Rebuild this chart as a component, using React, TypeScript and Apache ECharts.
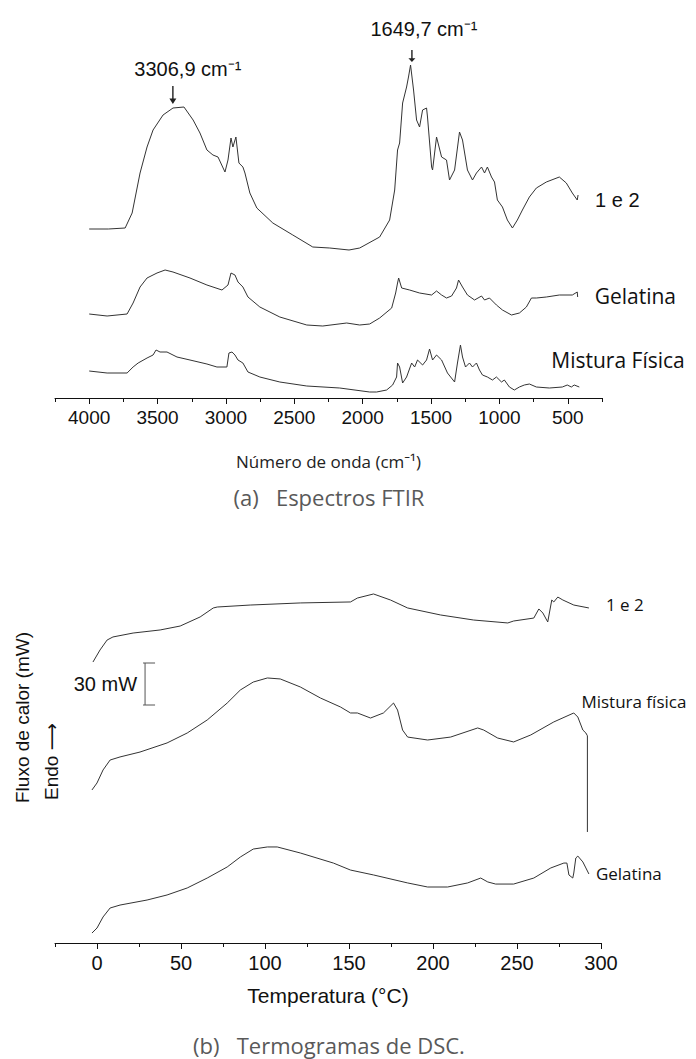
import React, { useEffect, useRef } from "react";
import * as echarts from "echarts";

// ---------- FTIR data (wavenumber cm-1, relative intensity a.u.) ----------
const ftirMajorTicks = [500, 1000, 1500, 2000, 2500, 3000, 3500, 4000];

const ftir12 = [
  [4000, 169], [3860, 169], [3737, 170], [3686, 185], [3628, 225], [3577, 251], [3533, 268],
  [3460, 283], [3387, 290], [3307, 291], [3240, 278], [3190, 265], [3139, 248], [3095, 243],
  [3058, 241], [3007, 226], [2985, 238], [2963, 260], [2949, 251], [2927, 261], [2905, 235],
  [2876, 231], [2861, 225], [2825, 205], [2774, 190], [2657, 175], [2511, 163], [2365, 151],
  [2241, 150], [2100, 148], [2022, 150], [1876, 161], [1803, 178], [1766, 208], [1745, 248],
  [1730, 255], [1708, 295], [1679, 311], [1665, 321], [1650, 333], [1628, 308], [1606, 278],
  [1584, 271], [1562, 288], [1533, 290], [1526, 281], [1496, 231], [1489, 228], [1460, 261],
  [1423, 241], [1387, 238], [1365, 218], [1328, 228], [1292, 266], [1270, 258], [1234, 228],
  [1197, 218], [1168, 225], [1131, 231], [1109, 225], [1088, 231], [1058, 221], [1036, 216],
  [1015, 198], [978, 191], [942, 178], [905, 170], [869, 178], [832, 188], [781, 201],
  [730, 210], [657, 216], [562, 221], [511, 215], [467, 205], [431, 198], [425, 203],
];

const ftirGel = [
  [4000, 84], [3869, 82], [3723, 84], [3679, 95], [3628, 111], [3577, 120], [3504, 125],
  [3445, 128], [3387, 126], [3263, 120], [3139, 113], [3029, 108], [2985, 113], [2963, 125],
  [2934, 123], [2912, 116], [2876, 111], [2839, 101], [2752, 91], [2606, 81], [2409, 73],
  [2292, 72], [2117, 75], [2022, 73], [1949, 74], [1876, 80], [1788, 90], [1759, 105],
  [1745, 115], [1737, 120], [1715, 110], [1657, 108], [1584, 105], [1496, 103], [1460, 107],
  [1423, 103], [1387, 100], [1350, 102], [1314, 110], [1299, 118], [1270, 111], [1234, 103],
  [1182, 98], [1131, 102], [1109, 98], [1073, 100], [1022, 93], [978, 88], [912, 83],
  [854, 85], [803, 91], [766, 100], [730, 100], [657, 101], [562, 103], [467, 103],
  [431, 106], [428, 101],
];

const ftirMix = [
  [4000, 27], [3869, 25], [3723, 25], [3679, 31], [3642, 35], [3577, 40], [3533, 43],
  [3511, 48], [3482, 46], [3431, 46], [3358, 41], [3263, 38], [3139, 34], [3066, 31],
  [2993, 31], [2978, 45], [2956, 46], [2934, 43], [2912, 38], [2876, 35], [2839, 26],
  [2752, 21], [2606, 16], [2409, 12], [2168, 10], [1949, 6], [1898, 6], [1825, 8],
  [1781, 13], [1752, 21], [1745, 35], [1730, 31], [1708, 15], [1679, 21], [1642, 35],
  [1620, 31], [1599, 38], [1562, 33], [1533, 38], [1511, 49], [1489, 38], [1460, 43],
  [1423, 38], [1380, 25], [1328, 16], [1307, 35], [1285, 53], [1270, 41], [1248, 31],
  [1219, 35], [1197, 31], [1168, 35], [1146, 28], [1124, 23], [1088, 21], [1051, 18],
  [1022, 21], [985, 16], [964, 18], [927, 11], [891, 8], [854, 11], [818, 13], [781, 14],
  [730, 11], [635, 10], [540, 11], [504, 13], [474, 11], [453, 13], [416, 11],
];

// ---------- DSC data (temperature °C, heat flow mW, offset curves) ----------
const dscMajorTicks = [0, 50, 100, 150, 200, 250, 300];

const dsc12 = [
  [-2.4, 200.7], [1.8, 209.3], [6.0, 216.4], [9.5, 218.6], [21.5, 221.4], [37.6, 223.6],
  [49.5, 226.4], [61.4, 232.9], [69.2, 239.3], [71.6, 240], [91.2, 241.4], [121, 242.9],
  [150.9, 243.6], [155, 246.4], [164.6, 249.3], [174.7, 245], [184.9, 239.3], [204.5, 234.3],
  [224.2, 230.7], [244.5, 228.6], [248, 230], [260, 232.1], [263, 238.6], [265.4, 235.7],
  [268.3, 229.3], [270.7, 245], [271.9, 243.6], [274.3, 247.1], [277.3, 245], [283.8, 241.4],
  [292.8, 239.3],
];

const dscMix = [
  [-3, 109.3], [0, 114.3], [3.6, 123.6], [7.8, 130.7], [13.7, 132.9], [25.6, 136.4],
  [41.7, 142.9], [53.7, 150], [65.6, 159.3], [77.5, 171.4], [85.3, 180.7], [93, 186.4],
  [101.4, 189.3], [109.1, 188.6], [121, 182.9], [133, 175], [144.9, 168.6], [150.9, 164.3],
  [155, 164.3], [162.8, 160.7], [170.5, 164.3], [176.5, 171.4], [178.9, 166.4], [181.9, 152.1],
  [184.9, 147.1], [196.8, 145], [210.5, 147.1], [226.6, 153.6], [230.2, 152.1], [238.5, 146.4],
  [248, 143.6], [258.2, 148.6], [271.9, 157.9], [283.8, 164.3], [286.2, 161.4], [289.2, 152.1],
  [291, 150], [291.9, 148], [291.9, 79.3],
];

const dscGel = [
  [-3, 7.1], [0, 10.7], [3.6, 18.6], [7.8, 25], [13.7, 27.1], [29.8, 30.7], [41.7, 34.3],
  [53.7, 39.3], [65.6, 46.4], [77.5, 54.3], [85.3, 61.4], [93, 67.1], [101.4, 68.6],
  [107.3, 68.6], [121, 64.3], [140.7, 57.1], [150.9, 52.1], [164.6, 48.6], [184.9, 42.9],
  [196.8, 40], [208.7, 40], [220.6, 42.9], [228.4, 46.4], [232.6, 43.6], [237.3, 42.1],
  [248, 42.1], [260, 46.4], [270.1, 53.6], [277.9, 57.1], [279.7, 57.1], [280.9, 48.6],
  [283.2, 46.4], [283.8, 50], [285, 60.7], [286.2, 62.1], [289.2, 57.9], [291, 53.6],
  [292.8, 49.3],
];

// scale bar: temperature position, from / to heat flow (30 mW)
const scaleBar = [[28.6, 170, 200]];

const ARIAL = "'Liberation Sans', Arial, Helvetica, sans-serif";
const CALIBRI = "'Open Sans', 'Noto Sans', sans-serif";
const LINE = "#333";
const INK = "#111";

const arrowPath = "path://M3.2,0 L4.8,0 L4.8,11 L8,11 L4,16 L0,11 L3.2,11 Z";
const plain = (v: number) => String(v);

function lineSeries(data: number[][], axis: number, label: any, extra: any = {}) {
  return {
    type: "line",
    xAxisIndex: axis * 2,
    yAxisIndex: axis,
    data,
    showSymbol: false,
    symbol: "none",
    lineStyle: { color: LINE, width: 1 },
    endLabel: { show: true, distance: 0, align: "left", verticalAlign: "middle", ...label },
    silent: true,
    ...extra,
  };
}

export default function App() {
  const ref = useRef<HTMLDivElement>(null);
  useEffect(() => {
    const chart = echarts.init(ref.current!, null, { renderer: "svg" });
    const option: any = {
      animation: false,
      backgroundColor: "#fff",
      textStyle: { fontFamily: ARIAL },
      grid: [
        { left: 55, top: 18, width: 547, height: 380 },
        { left: 55, top: 579, width: 546, height: 364 },
      ],
      xAxis: [
        {
          gridIndex: 0, type: "value", position: "bottom", min: 250, max: 4250, inverse: true,
          axisLine: { lineStyle: { color: INK, width: 1 } },
          axisTick: { customValues: ftirMajorTicks, length: 6, lineStyle: { color: INK } },
          axisLabel: { customValues: ftirMajorTicks, formatter: plain, fontSize: 19, fontFamily: ARIAL, color: INK, margin: 10 },
          splitLine: { show: false },
          name: "Número de onda (cm⁻¹)", nameLocation: "middle", nameGap: 55,
          nameTextStyle: { fontFamily: CALIBRI, fontSize: 17, color: "#222" },
        },
        {
          gridIndex: 0, type: "value", position: "bottom", offset: 0, min: 250, max: 4250, interval: 500, inverse: true,
          axisLine: { show: false },
          axisTick: { length: 4, lineStyle: { color: INK } },
          axisLabel: { show: false }, splitLine: { show: false },
        },
        {
          gridIndex: 1, type: "value", position: "bottom", min: -25, max: 300,
          axisLine: { lineStyle: { color: INK, width: 1 } },
          axisTick: { customValues: dscMajorTicks, length: 6, lineStyle: { color: INK } },
          axisLabel: { customValues: dscMajorTicks, formatter: plain, fontSize: 20, fontFamily: ARIAL, color: INK, margin: 10 },
          splitLine: { show: false },
          name: "Temperatura (°C)", nameLocation: "middle", nameGap: 42,
          nameTextStyle: { fontFamily: ARIAL, fontSize: 21, color: INK },
        },
        {
          gridIndex: 1, type: "value", position: "bottom", offset: 0, min: -25, max: 300, interval: 50,
          axisLine: { show: false },
          axisTick: { length: 4, lineStyle: { color: INK } },
          axisLabel: { show: false }, splitLine: { show: false },
        },
      ],
      yAxis: [
        { gridIndex: 0, type: "value", min: 0, max: 380, show: false },
        { gridIndex: 1, type: "value", min: 0, max: 260, show: false },
      ],
      series: [
        lineSeries(ftir12, 0, { formatter: "1 e 2", offset: [17, 5], fontSize: 20, fontFamily: ARIAL, color: INK }, {
          markPoint: {
            silent: true,
            symbol: arrowPath,
            symbolKeepAspect: false,
            itemStyle: { color: "#222" },
            label: { show: true, position: "top", fontFamily: ARIAL, fontSize: 20, color: INK },
            data: [
              { coord: [3388, 303], symbolSize: [7, 18], label: { formatter: "3306,9 cm⁻¹", offset: [15, 0], distance: 7 } },
              { coord: [1640, 342], symbolSize: [7, 12], label: { formatter: "1649,7 cm⁻¹", offset: [12, 0], distance: 11 } },
            ],
          },
        }),
        lineSeries(ftirGel, 0, { formatter: "Gelatina", offset: [17, -1], fontSize: 21, fontFamily: CALIBRI, color: INK }),
        lineSeries(ftirMix, 0, { formatter: "Mistura Física", offset: [-28, -27], fontSize: 21, fontFamily: CALIBRI, color: INK }),
        lineSeries(dsc12, 1, { formatter: "1 e 2", offset: [17, -3], fontSize: 17, fontFamily: CALIBRI, color: INK }),
        lineSeries(dscMix, 1, { formatter: "Mistura física", offset: [-6, -130], fontSize: 17, fontFamily: CALIBRI, color: INK }),
        lineSeries(dscGel, 1, { formatter: "Gelatina", offset: [7, 0], fontSize: 17, fontFamily: CALIBRI, color: INK }),
        {
          type: "custom",
          xAxisIndex: 2,
          yAxisIndex: 1,
          silent: true,
          data: scaleBar,
          encode: { x: 0, y: [1, 2] },
          renderItem: (params: any, api: any) => {
            const x = api.value(0);
            const top = api.coord([x, api.value(2)]);
            const bot = api.coord([x, api.value(1)]);
            const st = { stroke: "#555", lineWidth: 1 };
            return {
              type: "group",
              children: [
                { type: "line", shape: { x1: top[0], y1: top[1], x2: bot[0], y2: bot[1] }, style: st },
                { type: "line", shape: { x1: top[0] - 2, y1: top[1], x2: top[0] + 10, y2: top[1] }, style: st },
                { type: "line", shape: { x1: bot[0] - 2, y1: bot[1], x2: bot[0] + 10, y2: bot[1] }, style: st },
                {
                  type: "text", x: top[0] - 8, y: (top[1] + bot[1]) / 2,
                  style: { text: "30 mW", fill: INK, fontSize: 20, fontFamily: ARIAL, align: "right", verticalAlign: "middle" },
                },
              ],
            };
          },
        },
      ],
      graphic: [
        {
          type: "text", x: 22, y: 803, rotation: Math.PI / 2,
          style: { text: "Fluxo de calor (mW)", fill: INK, fontSize: 19, fontFamily: ARIAL, align: "left", verticalAlign: "middle" },
        },
        {
          type: "text", x: 51, y: 800, rotation: Math.PI / 2,
          style: { text: "Endo ⟶", fill: INK, fontSize: 19, fontFamily: ARIAL + ", 'DejaVu Sans'", align: "left", verticalAlign: "middle" },
        },
        {
          type: "text", x: 329, y: 497,
          style: { text: "(a)   Espectros FTIR", fill: "#595959", fontSize: 22, fontFamily: CALIBRI, align: "center", verticalAlign: "middle" },
        },
        {
          type: "text", x: 329, y: 1045,
          style: { text: "(b)   Termogramas de DSC.", fill: "#595959", fontSize: 22, fontFamily: CALIBRI, align: "center", verticalAlign: "middle" },
        },
      ],
    };
    chart.setOption(option);
    return () => chart.dispose();
  }, []);
  return (
    <div
      ref={ref}
      style={{ position: "absolute", left: 0, top: 0, width: 696, height: 1059, background: "#fff" }}
    />
  );
}
